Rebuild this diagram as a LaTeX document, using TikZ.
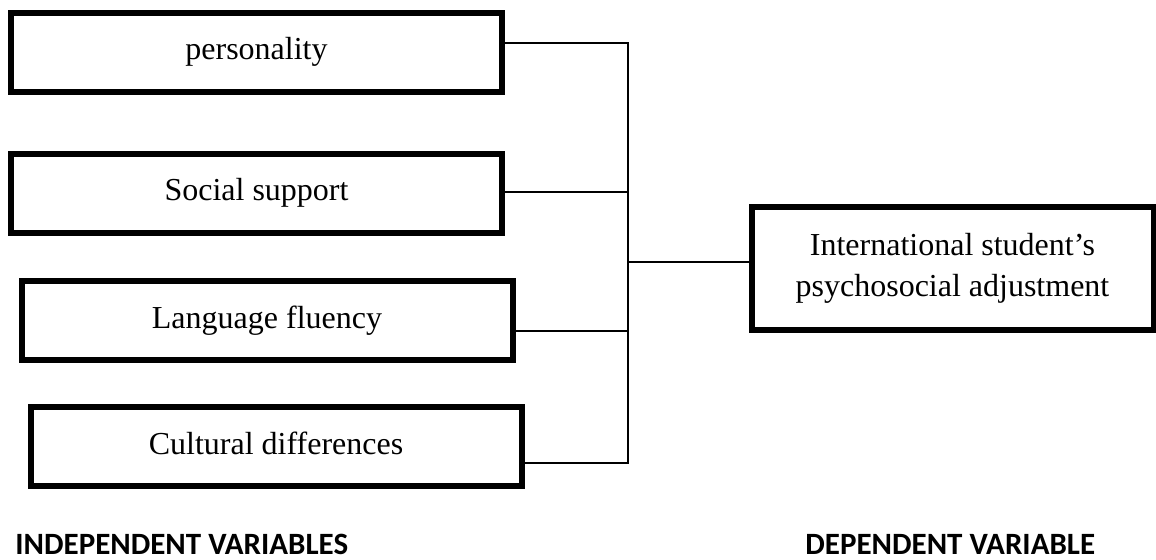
\documentclass[tikz,border=0pt]{standalone}
\usepackage{fontspec}
\setmainfont{Liberation Serif}
\newfontfamily\labelfont{Carlito}
\begin{document}
\begin{tikzpicture}[x=0.5pt,y=-0.5pt,
  varbox/.style={draw=black,line width=3pt,fill=white,inner sep=0pt,
    minimum width=245.5pt,minimum height=39.5pt,
    font=\fontsize{16}{20.5}\selectfont,text height=11pt,text depth=3.5pt},
  depbox/.style={draw=black,line width=2.8pt,fill=white,inner sep=0pt,
    minimum width=200.8pt,minimum height=61.7pt,align=center,
    font=\fontsize{16}{20.5}\selectfont},
  link/.style={draw=black,line width=0.7pt},
  caption/.style={font=\labelfont\bfseries\fontsize{15.5}{18}\selectfont,inner sep=0pt}]
\useasboundingbox (0,0) rectangle (1156,560);
\node[varbox] (b1) at (256.5,52.5) {personality};
\node[varbox] (b2) at (256.5,193.5) {Social support};
\node[varbox] (b3) at (267,321) {Language fluency};
\node[varbox] (b4) at (276,447) {Cultural differences};
\node[depbox] (r) at (952.5,268.5) {International student’s\\psychosocial adjustment};
\coordinate (top) at (628,43);
\coordinate (bot) at (628,463);
\coordinate (j) at (628,262);
\draw[link] ([yshift=4.75pt]b1.east) -- (top) -- (bot) -- ([yshift=-8pt]b4.east);
\draw[link] ([yshift=0.75pt]b2.east) -| (j);
\draw[link] ([yshift=-5pt]b3.east) -| (j);
\draw[link] ([yshift=3.25pt]r.west) -- (j);
\node[caption,anchor=base west] (iv) at (15,554) {INDEPENDENT VARIABLES};
\node[caption,anchor=base west] (dv) at (805,554) {DEPENDENT VARIABLE};
\end{tikzpicture}
\end{document}
